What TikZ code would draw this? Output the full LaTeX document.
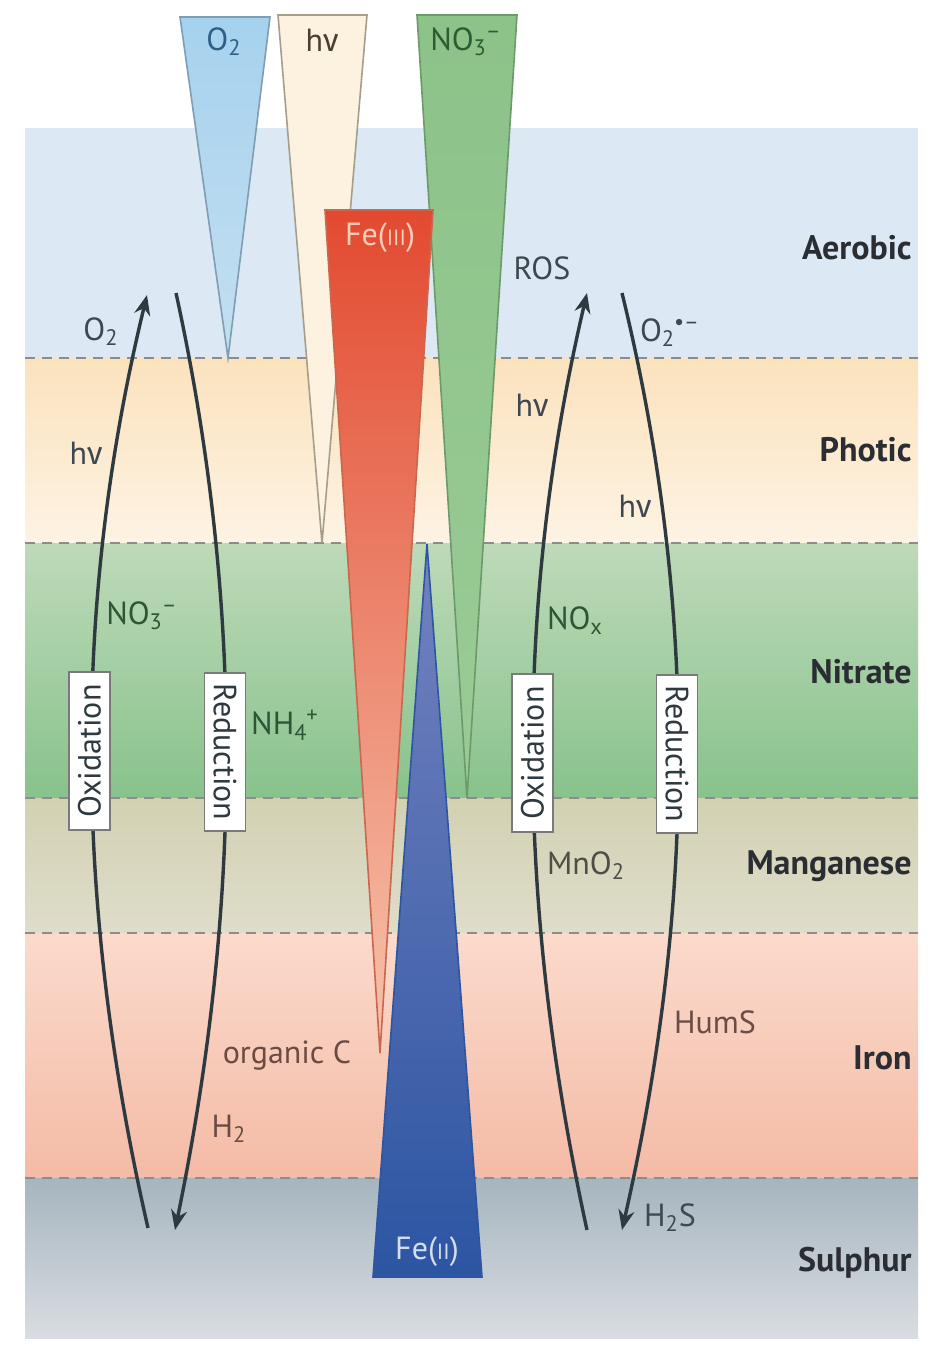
\documentclass[tikz,border=0pt]{standalone}
\usepackage{fontspec}
\setmainfont{PT Sans}
\newfontfamily\grk{Fira Sans}
\usetikzlibrary{arrows.meta}
\definecolor{aer}{HTML}{DCE9F5}
\definecolor{pho1}{HTML}{FBE2BD}
\definecolor{pho2}{HTML}{FDF3E3}
\definecolor{nit1}{HTML}{BEDAB9}
\definecolor{nit2}{HTML}{88C28C}
\definecolor{man1}{HTML}{D2D1B2}
\definecolor{man2}{HTML}{DFDDCA}
\definecolor{iro1}{HTML}{FBDACC}
\definecolor{iro2}{HTML}{F4BBA6}
\definecolor{sul1}{HTML}{A6B5BE}
\definecolor{sul2}{HTML}{D9DDE2}
\definecolor{sepgray}{HTML}{8C8C8C}
\definecolor{o2a}{HTML}{A6D2EE}
\definecolor{o2b}{HTML}{C4DFF1}
\definecolor{o2line}{HTML}{7F9DB3}
\definecolor{hvfill}{HTML}{FDF1DF}
\definecolor{hvline}{HTML}{A59E8A}
\definecolor{no3a}{HTML}{8CC389}
\definecolor{no3b}{HTML}{9ACB96}
\definecolor{no3line}{HTML}{6C9A6A}
\definecolor{fe3a}{HTML}{E24A30}
\definecolor{fe3m}{HTML}{EF8468}
\definecolor{fe3b}{HTML}{F7C4AE}
\definecolor{fe3line}{HTML}{C9674F}
\definecolor{fe2a}{HTML}{7482BF}
\definecolor{fe2m}{HTML}{4A68B0}
\definecolor{fe2b}{HTML}{2C55A2}
\definecolor{arcc}{HTML}{2E3A3F}
\definecolor{boxc}{HTML}{7A7A7A}
\definecolor{zonec}{HTML}{2A2E32}
\definecolor{labgray}{HTML}{3F4850}
\definecolor{labgreen}{HTML}{2E5535}
\definecolor{labbrown}{HTML}{6B4C44}
\definecolor{labmn}{HTML}{4E4E44}
\definecolor{labs}{HTML}{3C4A52}
\definecolor{o2top}{HTML}{2E5F87}
\definecolor{hvtop}{HTML}{4A4030}
\definecolor{no3top}{HTML}{2D5C33}
\definecolor{fe3txt}{HTML}{F9CDBA}
\definecolor{fe2txt}{HTML}{D5DDF0}
\newcommand{\nuv}{{\grk ν}}
\newcommand{\sml}[1]{{\fontsize{11}{12}\selectfont #1}}
\newcommand{\sbsc}[1]{\textsubscript{#1}}
\newcommand{\spsc}[1]{\kern-0.5pt\textsuperscript{#1}}
\begin{document}
\begin{tikzpicture}[x=0.5pt,y=-0.5pt,
  sep/.style={draw=sepgray, line width=1pt, dash pattern=on 5pt off 3.5pt},
  wedge/.style={line width=0.8pt, line join=miter},
  arcline/.style={draw=arcc, line width=1.7pt},
  tipped/.style={arcline, -{Stealth[length=10pt,width=8pt]}},
  lbl/.style={font=\fontsize{16}{19}\selectfont, inner sep=0pt},
  zone/.style={font=\bfseries\fontsize{17}{20}\selectfont, text=zonec, anchor=east, inner sep=0pt},
  procbox/.style={draw=boxc, fill=white, line width=0.7pt, minimum width=79pt, minimum height=20.5pt, inner sep=0pt, font=\fontsize{16}{19}\selectfont, text=arcc}
]
\useasboundingbox (0,0) rectangle (940,1346);
\fill[white] (0,0) rectangle (940,1346);
% layers
\fill[aer] (25,128) rectangle (918,358);
\shade[top color=pho1, bottom color=pho2] (25,358) rectangle (918,543);
\shade[top color=nit1, bottom color=nit2] (25,543) rectangle (918,798);
\shade[top color=man1, bottom color=man2] (25,798) rectangle (918,933);
\shade[top color=iro1, bottom color=iro2] (25,933) rectangle (918,1178);
\shade[top color=sul1, bottom color=sul2] (25,1178) rectangle (918,1338);
\draw[sep] (25,358) -- (918,358);
\draw[sep] (25,543) -- (918,543);
\draw[sep] (25,798) -- (918,798);
\draw[sep] (25,933) -- (918,933);
\draw[sep] (25,1178) -- (918,1178);
% wedges
\path[wedge, draw=o2line, top color=o2a, bottom color=o2b] (180,17) -- (270,17) -- (228,358) -- cycle;
\path[wedge, draw=hvline, fill=hvfill] (278,15) -- (367,15) -- (322,543) -- cycle;
\path[wedge, draw=no3line, top color=no3a, bottom color=no3b] (417,15) -- (517,15) -- (467,798) -- cycle;
\path[wedge, draw=fe3line, top color=fe3a, middle color=fe3m, bottom color=fe3b] (325,210) -- (433,210) -- (380,1053) -- cycle;
\path[wedge, draw=fe2b, top color=fe2a, middle color=fe2m, bottom color=fe2b] (427,544) -- (482,1277) -- (373,1277) -- cycle;
\node[lbl, text=o2top] (wO2) at (224,42) {O\sbsc{2}};
\node[lbl, text=hvtop] (whv) at (322,40) {h\nuv};
\node[lbl, text=no3top] (wNO3) at (466,42) {NO\sbsc{3}\spsc{\textendash}};
\node[lbl, text=fe3txt] (wFe3) at (380,238) {Fe(\sml{III})};
\node[lbl, text=fe2txt] (wFe2) at (427,1252) {Fe(\sml{II})};
% cycle arcs
\coordinate (LOb) at (148,1228);
\coordinate (LOt) at (147,295);
\coordinate (LRt) at (176,293);
\coordinate (LRb) at (175,1230);
\coordinate (ROb) at (587,1230);
\coordinate (ROt) at (587,293);
\coordinate (RRt) at (622,293);
\coordinate (RRb) at (622,1230);
\draw[tipped] (LOb) .. controls (73,900) and (73,600) .. (LOt);
\draw[tipped] (LRt) .. controls (243,600) and (243,900) .. (LRb);
\draw[tipped] (ROb) .. controls (515,900) and (515,600) .. (ROt);
\draw[tipped] (RRt) .. controls (697,600) and (697,900) .. (RRb);
\node[procbox, rotate=90] (LOx) at (89.5,751) {Oxidation};
\node[procbox, rotate=-90] (LRed) at (225,752) {Reduction};
\node[procbox, rotate=90] (ROx) at (532.5,753) {Oxidation};
\node[procbox, rotate=-90] (RRed) at (677,754) {Reduction};
% labels
\node[lbl, text=labgray] (lO2) at (101,332) {O\sbsc{2}};
\node[lbl, text=labgray] (lhv) at (86,453) {h\nuv};
\node[lbl, text=labgreen] (lNO3) at (142,616) {NO\sbsc{3}\spsc{\textendash}};
\node[lbl, text=labgreen] (lNH4) at (285,725) {NH\sbsc{4}\spsc{+}};
\node[lbl, text=labbrown] (lorgC) at (287,1055) {organic C};
\node[lbl, text=labbrown] (lH2) at (229,1129) {H\sbsc{2}};
\node[lbl, text=labgray] (lROS) at (542,268) {ROS};
\node[lbl, text=labgray] (lO2r) at (670,333) {O\sbsc{2}\spsc{\textbullet\textendash}};
\node[lbl, text=labgray] (lhv2) at (532,405) {h\nuv};
\node[lbl, text=labgray] (lhv3) at (635,506) {h\nuv};
\node[lbl, text=labgreen] (lNOx) at (575,621) {NO\sbsc{x}};
\node[lbl, text=labmn] (lMnO2) at (586,866) {MnO\sbsc{2}};
\node[lbl, text=labbrown] (lHumS) at (715,1022) {HumS};
\node[lbl, text=labs] (lH2S) at (670,1218) {H\sbsc{2}S};
% zone names
\node[zone] (zA) at (912,248) {Aerobic};
\node[zone] (zP) at (912,450) {Photic};
\node[zone] (zN) at (912,672) {Nitrate};
\node[zone] (zM) at (912,866) {Manganese};
\node[zone] (zI) at (912,1058) {Iron};
\node[zone] (zS) at (912,1263) {Sulphur};
\end{tikzpicture}
\end{document}
